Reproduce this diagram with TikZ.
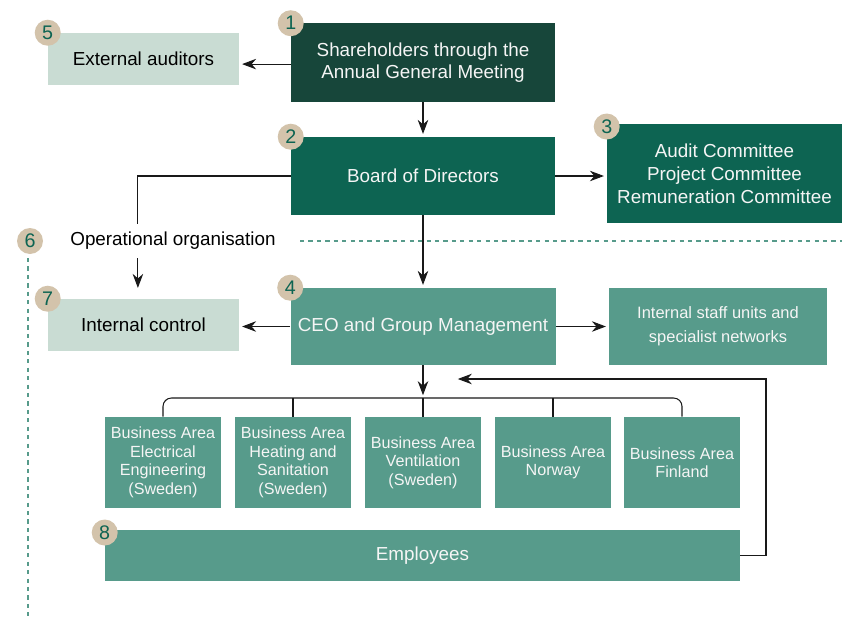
\documentclass[tikz,border=0pt]{standalone}
\usepackage{fontspec}
\setmainfont{Liberation Sans}
\usetikzlibrary{arrows.meta}

\definecolor{gdark}{HTML}{17463A}
\definecolor{gdeep}{HTML}{0D6452}
\definecolor{gmid}{HTML}{579B8B}
\definecolor{glight}{HTML}{C9DCD3}
\definecolor{gbeige}{HTML}{D3C3AB}

\tikzset{
    box/.style={rectangle, inner sep=0pt, align=center, text=white!96!black,
        font=\fontsize{13.4}{15.8}\selectfont},
    mainbox/.style={box, minimum width=6.6cm, minimum height=1.95cm},
    sidebox/.style={box, fill=glight, text=black, minimum width=4.775cm, minimum height=1.3cm},
    areabox/.style={box, fill=gmid, minimum width=2.9cm, minimum height=2.275cm,
        font=\fontsize{11.5}{13.2}\selectfont},
    badge/.style={circle, fill=gbeige, text=gdeep, minimum size=0.65cm, inner sep=0pt,
        font=\fontsize{14}{14}\selectfont},
    link/.style={-{Stealth[length=10pt,width=7.5pt]}, line width=0.75pt, draw=black!90, shorten >=2pt},
    plain/.style={line width=0.75pt, draw=black!90},
    border/.style={line width=0.8pt, draw=gmid, dash pattern=on 3pt off 3pt}
}

\begin{document}
\begin{tikzpicture}
    \useasboundingbox (0, 0) rectangle (21.05, 15.4);

    % governing bodies
    \node[mainbox, fill=gdark] (agm) at (10.575, 13.8375) {Shareholders through the\\Annual General Meeting};
    \node[sidebox] (extaud) at (3.5875, 13.925) {External auditors};
    \node[mainbox, fill=gdeep] (board) at (10.575, 11.0) {Board of Directors};
    \node[box, fill=gdeep, minimum width=5.875cm, minimum height=2.475cm,
        font=\fontsize{13.4}{16.4}\selectfont] (cttee) at (18.1125, 11.0625)
        {Audit Committee\\Project Committee\\Remuneration Committee};

    % operational organisation
    \node[mainbox, fill=gmid, minimum width=6.625cm, minimum height=1.925cm] (ceo) at (10.575, 7.2375) {CEO and Group Management};
    \node[sidebox] (intctl) at (3.5875, 7.275) {Internal control};
    \node[box, fill=gmid, minimum width=5.45cm, minimum height=1.925cm,
        font=\fontsize{11.7}{17}\selectfont] (staff) at (17.95, 7.2375)
        {Internal staff units and\\specialist networks};

    \node[areabox] (ba1) at (4.075, 3.8375) {Business Area\\Electrical\\Engineering\\(Sweden)};
    \node[areabox] (ba2) at (7.325, 3.8375) {Business Area\\Heating and\\Sanitation\\(Sweden)};
    \node[areabox] (ba3) at (10.575, 3.8375) {Business Area\\Ventilation\\(Sweden)};
    \node[areabox] (ba4) at (13.825, 3.8375) {Business Area\\Norway};
    \node[areabox] (ba5) at (17.05, 3.8375) {Business Area\\Finland};

    \node[box, fill=gmid, minimum width=15.875cm, minimum height=1.275cm] (staffall) at (10.5625, 1.5125) {Employees};

    % connectors
    \draw[link] ([yshift=-0.04cm]agm.west) -- ([yshift=-0.04cm]agm.west -| extaud.east);
    \draw[link] (agm.south) -- (board.north);
    \draw[link] (board.east) -- (board.east -| cttee.west);
    \draw[link] (board.south) -- (board.south |- ceo.north);
    \draw[link] (board.west) -| ([xshift=-0.14cm, yshift=0.2cm]intctl.north);
    \draw[link] (ceo.west) -- (ceo.west -| intctl.east);
    \draw[link] (ceo.east) -- (ceo.east -| staff.west);

    \coordinate (fork) at (10.575, 5.45);
    \draw[link] (ceo.south) -- (fork);
    \draw[plain, rounded corners=6pt] (ba1.north) |- (fork) -| (ba5.north);
    \draw[plain] (ba2.north) -- (ba2.north |- fork);
    \draw[plain] (ba3.north) -- (fork);
    \draw[plain] (ba4.north) -- (ba4.north |- fork);

    \coordinate (turn) at (19.15, 5.925);
    \coordinate (back) at (11.375, 5.925);
    \draw[link] (staffall.east) -| (turn) -- (back);

    % split between governance and operations
    \node[fill=white, inner sep=5.5pt, font=\fontsize{13.4}{14}\selectfont] (opl) at (4.325, 9.375) {Operational organisation};
    \coordinate (splitr) at (21.05, 9.375);
    \coordinate (splitb) at (0.7, 0);
    \draw[border] (7.5, 9.375) -- (splitr);
    \draw[border] (0.7, 8.95) -- (splitb);

    % numbering
    \node[badge] (n1) at (agm.north west) {1};
    \node[badge] (n2) at (board.north west) {2};
    \node[badge] (n3) at ([yshift=-0.07cm]cttee.north west) {3};
    \node[badge] (n4) at (ceo.north west) {4};
    \node[badge] (n5) at (extaud.north west) {5};
    \node[badge] (n6) at (0.75, 9.375) {6};
    \node[badge] (n7) at (intctl.north west) {7};
    \node[badge] (n8) at ([yshift=-0.07cm]staffall.north west) {8};
\end{tikzpicture}
\end{document}
